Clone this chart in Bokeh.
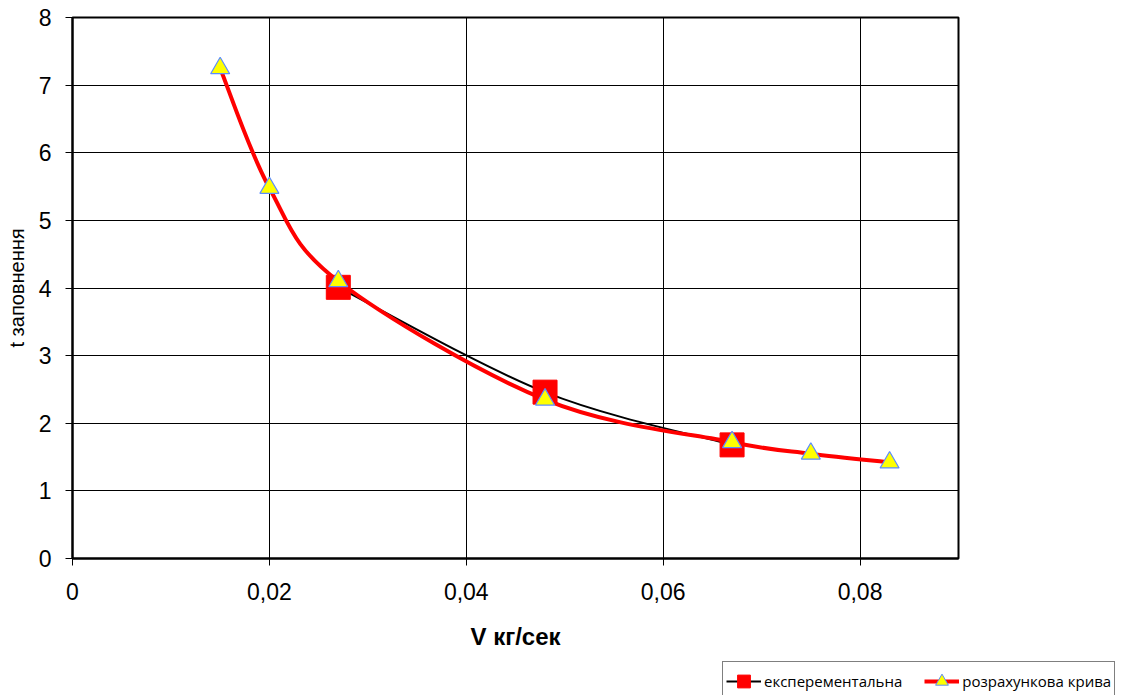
import numpy as np
from bokeh.plotting import figure
from bokeh.layouts import column
from bokeh.models import (FixedTicker, CustomJSTickFormatter, Legend, LegendItem,
                          Range1d, ColumnDataSource)
from bokeh.embed import file_html
from bokeh.resources import INLINE

# ---- data ----
exp_x = [0.027, 0.048, 0.067]
exp_y = [4.01, 2.46, 1.68]

calc_x = [0.015, 0.020, 0.027, 0.048, 0.067, 0.075, 0.083]
calc_y = [7.25, 5.48, 4.10, 2.35, 1.72, 1.55, 1.42]

x_ticks = [0, 0.02, 0.04, 0.06, 0.08]
y_ticks = [0, 1, 2, 3, 4, 5, 6, 7, 8]

label_exp = "експерементальна"
label_calc = "розрахункова крива"
x_title = "V кг/сек"
y_title = "t заповнення"

RED = "#FF0000"
YELLOW = "#FFFF00"
TRI_EDGE = "#5B8CFF"


def smooth_segments(xs, ys):
    """Bezier control points for a smoothed line through the given points
    (the same style of smoothing a spreadsheet chart uses)."""
    xs = np.asarray(xs, float)
    ys = np.asarray(ys, float)
    n = len(xs)
    d = dict(x0=[], y0=[], x1=[], y1=[], cx0=[], cy0=[], cx1=[], cy1=[])
    for i in range(n - 1):
        ip = max(i - 1, 0)
        inn = min(i + 2, n - 1)
        d["x0"].append(xs[i]); d["y0"].append(ys[i])
        d["x1"].append(xs[i + 1]); d["y1"].append(ys[i + 1])
        d["cx0"].append(xs[i] + (xs[i + 1] - xs[ip]) / 6)
        d["cy0"].append(ys[i] + (ys[i + 1] - ys[ip]) / 6)
        d["cx1"].append(xs[i + 1] - (xs[inn] - xs[i]) / 6)
        d["cy1"].append(ys[i + 1] - (ys[inn] - ys[i]) / 6)
    return ColumnDataSource(d)


p = figure(width=1133, height=655, output_backend="svg", toolbar_location=None,
           x_range=Range1d(0, 0.09), y_range=Range1d(0, 8),
           min_border_left=72, min_border_right=175, min_border_top=17,
           min_border_bottom=97)
p.frame_align = False

p.background_fill_color = "white"
p.border_fill_color = "white"
p.outline_line_color = "black"
p.outline_line_width = 2

font = "Liberation Sans"
for ax in (p.xaxis[0], p.yaxis[0]):
    ax.axis_line_color = "black"
    ax.axis_line_width = 2
    ax.major_tick_line_color = "black"
    ax.major_tick_line_width = 1
    ax.major_tick_out = 7
    ax.major_tick_in = 0
    ax.minor_tick_line_color = None
    ax.major_label_text_font = font
    ax.major_label_text_font_size = "23px"
    ax.major_label_text_color = "black"
    ax.axis_label_text_font = font
    ax.axis_label_text_color = "black"

p.xaxis.ticker = FixedTicker(ticks=x_ticks)
p.yaxis.ticker = FixedTicker(ticks=y_ticks)
p.xaxis.formatter = CustomJSTickFormatter(
    code="return tick == 0 ? '0' : tick.toFixed(2).replace('.', ',');")
p.yaxis.formatter = CustomJSTickFormatter(code="return tick.toFixed(0);")
p.xaxis.major_label_standoff = 17
p.yaxis.major_label_standoff = 14

p.xaxis.axis_label = x_title
p.xaxis.axis_label_text_font_style = "bold"
p.xaxis.axis_label_text_font_size = "24px"
p.xaxis.axis_label_standoff = 20
p.yaxis.axis_label = y_title
p.yaxis.axis_label_text_font_style = "normal"
p.yaxis.axis_label_text_font_size = "20px"
p.yaxis.axis_label_standoff = 8

p.xgrid.grid_line_color = "black"
p.xgrid.grid_line_width = 1
p.ygrid.grid_line_color = "black"
p.ygrid.grid_line_width = 1

# experimental curve
src_exp = smooth_segments(exp_x, exp_y)
p.bezier(x0="x0", y0="y0", x1="x1", y1="y1", cx0="cx0", cy0="cy0",
         cx1="cx1", cy1="cy1", source=src_exp, line_color="black", line_width=2)
p.scatter(exp_x, exp_y, marker="square", size=24, fill_color=RED, line_color=RED)

# calculated curve
src_calc = smooth_segments(calc_x, calc_y)
p.bezier(x0="x0", y0="y0", x1="x1", y1="y1", cx0="cx0", cy0="cy0",
         cx1="cx1", cy1="cy1", source=src_calc, line_color=RED, line_width=4)
p.scatter(calc_x, calc_y, marker="triangle", size=19,
          fill_color=YELLOW, line_color=TRI_EDGE, line_width=1.2)

# ---- legend strip below the chart ----
lf = figure(width=1133, height=40, output_backend="svg", toolbar_location=None,
            x_range=Range1d(0, 1), y_range=Range1d(0, 1), min_border=0)
lf.frame_align = False
lf.axis.visible = False
lf.grid.visible = False
lf.outline_line_color = None
lf.background_fill_color = "white"
lf.border_fill_color = "white"

# legend sample renderers, placed outside the strip's visible range
off = [-10]
e_line = lf.line(off, off, line_color="black", line_width=2)
e_mark = lf.scatter(off, off, marker="square", size=13, fill_color=RED, line_color=RED)
c_line = lf.line(off, off, line_color=RED, line_width=4)
c_mark = lf.scatter(off, off, marker="triangle", size=11,
                    fill_color=YELLOW, line_color=TRI_EDGE)

legend = Legend(items=[
    LegendItem(label=label_exp, renderers=[e_line, e_mark]),
    LegendItem(label=label_calc, renderers=[c_line, c_mark]),
], orientation="horizontal", location=(722, -6))
legend.label_text_font = "Open Sans"
legend.label_text_font_size = "15px"
legend.label_text_color = "black"
legend.border_line_color = "black"
legend.border_line_width = 1
legend.background_fill_alpha = 1
legend.glyph_width = 35
legend.glyph_height = 32
legend.label_height = 32
legend.spacing = 22
legend.padding = 3
legend.label_standoff = 3
legend.margin = 0
lf.add_layout(legend, "center")

layout = column(p, lf, spacing=0)
open("out.html", "w").write(file_html(layout, INLINE))
